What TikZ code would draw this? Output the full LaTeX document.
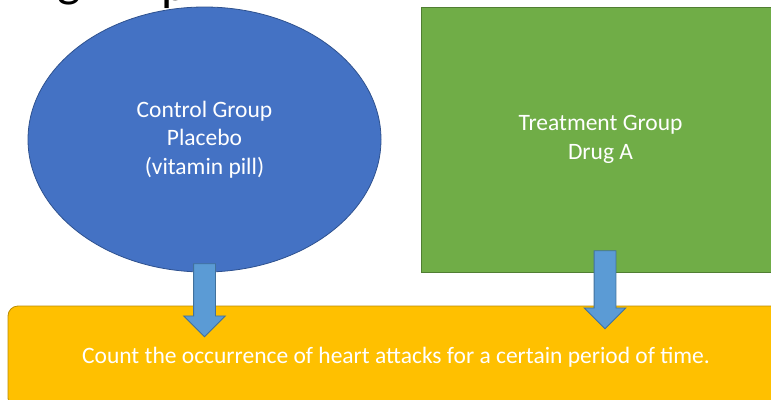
\documentclass[tikz,border=0pt]{standalone}
\usepackage{fontspec}
\setmainfont{Carlito}
\usepackage{xcolor}
\usepackage{tikz}
\usetikzlibrary{positioning,calc,shapes.geometric,shapes.arrows}
\definecolor{CtlBlue}{RGB}{68,114,196}
\definecolor{CtlEdge}{RGB}{47,82,143}
\definecolor{TrtGreen}{RGB}{112,173,71}
\definecolor{TrtEdge}{RGB}{80,126,50}
\definecolor{CntGold}{RGB}{255,192,0}
\definecolor{CntEdge}{RGB}{188,140,0}
\definecolor{ArrBlue}{RGB}{91,155,213}
\definecolor{ArrEdge}{RGB}{65,113,156}
\tikzset{
  grp/.style={line width=0.8pt,text=white,align=center,inner sep=0pt,
              font=\fontsize{23.5}{28.5}\selectfont},
  ctlshape/.style={grp,ellipse,fill=CtlBlue,draw=CtlEdge,
                   minimum width=353pt,minimum height=265pt},
  trtshape/.style={grp,rectangle,fill=TrtGreen,draw=TrtEdge,
                   minimum width=359pt,minimum height=265pt},
  cntshape/.style={grp,rectangle,rounded corners=10pt,fill=CntGold,draw=CntEdge,
                   minimum width=776pt,minimum height=102pt},
  blockarr/.style={single arrow,shape border rotate=270,fill=ArrBlue,draw=ArrEdge,
                   line width=0.8pt,inner xsep=10.5pt,inner ysep=0pt,
                   single arrow head extend=10pt,single arrow tip angle=90},
  ttl/.style={font=\fontsize{50}{60}\selectfont,text=black,inner sep=0pt},
}
\begin{document}
\begin{tikzpicture}[x=1pt,y=-1pt]
  \useasboundingbox (0,0) rectangle (771,399);
  % cut-off title line
  \begin{scope}
    \clip (0,0) rectangle (771,399);
    \node[ttl,anchor=base west] (ttlg) at (57,-4) {g};
    \node[ttl,anchor=base west] (ttlp) at (161,0) {p};
  \end{scope}
  \node[ctlshape] (ctl) at (204.5,139.5) {Control Group\\Placebo\\(vitamin pill)};
  \node[trtshape] (trt) at (600.5,139.5) {Treatment Group\\Drug A};
  \node[cntshape] (cnt) at (396,357)
    {Count the occurrence of heart attacks for a certain period of time.};
  % block arrows
  \node[blockarr,minimum height=73pt,anchor=tail] (arrL) at ($(ctl.south)+(0,-9)$) {};
  \node[blockarr,minimum height=78pt,anchor=tail] (arrR) at ($(trt.south)+(4.5,-22)$) {};
\end{tikzpicture}
\end{document}
